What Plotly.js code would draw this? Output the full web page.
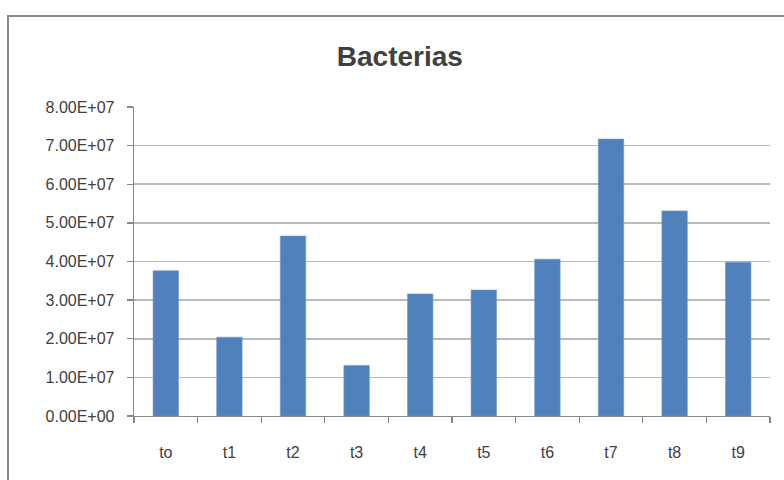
<!DOCTYPE html>
<html>
<head>
<meta charset="utf-8">
<script src="https://cdn.plot.ly/plotly-3.0.1.min.js"></script>
<style>
  html, body { margin: 0; padding: 0; background: #ffffff; overflow: hidden; }
  #wrap { position: relative; width: 784px; height: 480px; }
  #chart { position: absolute; left: 0; top: 0; width: 784px; height: 480px; }
  #frame {
    position: absolute; left: 7px; top: 15px; width: 800px; height: 500px;
    border-left: 2px solid #878787; border-top: 2px solid #878787;
    pointer-events: none;
  }
</style>
</head>
<body>
<div id="wrap">
  <div id="chart"></div>
  <div id="frame"></div>
</div>
<script>
// Bacteria counts per sampling time
const categories = ['to', 't1', 't2', 't3', 't4', 't5', 't6', 't7', 't8', 't9'];
const counts = [3.76e7, 2.04e7, 4.66e7, 1.31e7, 3.16e7, 3.26e7, 4.06e7, 7.17e7, 5.31e7, 3.98e7];
const yTickValues = [0, 1e7, 2e7, 3e7, 4e7, 5e7, 6e7, 7e7, 8e7];
const yTickLabels = ['0.00E+00', '1.00E+07', '2.00E+07', '3.00E+07', '4.00E+07',
                     '5.00E+07', '6.00E+07', '7.00E+07', '8.00E+07'];

const font = 'Liberation Sans, Arial, sans-serif';

const trace = {
  type: 'bar',
  x: categories,
  y: counts,
  marker: { color: '#4f81bd', line: { color: '#7097c8', width: 0.6 } },
  hoverinfo: 'x+y'
};

const layout = {
  width: 784,
  height: 480,
  margin: { l: 134, r: 14, t: 107, b: 64 },
  paper_bgcolor: 'rgba(0,0,0,0)',
  plot_bgcolor: '#ffffff',
  bargap: 0.6,
  showlegend: false,
  title: {
    text: '<b>Bacterias</b>',
    x: 0.51, xanchor: 'center',
    y: 0.882, yanchor: 'middle',
    font: { family: font, size: 28, color: '#404040' }
  },
  xaxis: {
    type: 'category',
    tickson: 'boundaries',
    ticks: 'outside',
    ticklen: 6,
    tickcolor: '#878787',
    tickwidth: 1.3,
    showline: true,
    linecolor: '#878787',
    linewidth: 1.3,
    showgrid: false,
    ticklabelstandoff: 21,
    tickfont: { family: font, size: 16, color: '#404040' }
  },
  yaxis: {
    range: [0, 8e7],
    tickvals: yTickValues,
    ticktext: yTickLabels,
    ticks: 'outside',
    ticklen: 6,
    tickcolor: '#878787',
    tickwidth: 1.3,
    showline: true,
    linecolor: '#878787',
    linewidth: 1.3,
    showgrid: true,
    gridcolor: '#bababa',
    gridwidth: 1.7,
    zeroline: false,
    ticklabelstandoff: 9,
    tickfont: { family: font, size: 16, color: '#404040' }
  }
};

Plotly.newPlot('chart', [trace], layout, { displayModeBar: false, staticPlot: true });
</script>
</body>
</html>
